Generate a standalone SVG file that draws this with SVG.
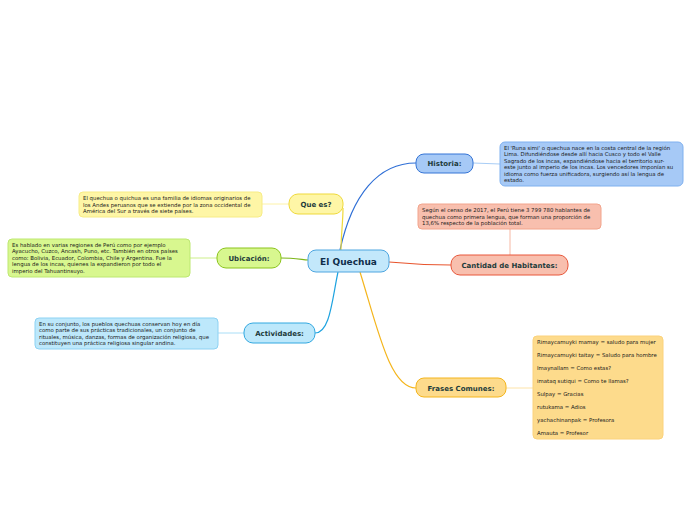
<svg xmlns="http://www.w3.org/2000/svg" width="696" height="520" viewBox="0 0 696 520">
<style>
.t{font-family:"DejaVu Sans",Verdana,sans-serif;font-size:5.4px;fill:#1a1a1a}
.h{font-family:"DejaVu Sans",Verdana,sans-serif;font-size:7px;font-weight:bold;fill:#1d3b3b;text-anchor:middle}
.c{fill:none;stroke-width:1.2}
.s{fill:none;stroke-width:1}
</style>
<rect width="696" height="520" fill="#fff"/>
<g id="connectors">
<path class="c" stroke="#2f6fd6" d="M340,250 C352,195 378,163 416,163"/>
<path class="c" stroke="#e8552e" d="M389,262 C410,264 430,265 451,265"/>
<path class="c" stroke="#f4b51c" d="M360,272 C378,330 390,388 416,388"/>
<path class="c" stroke="#efd93a" d="M341,250 C341,235 343,222 343,208"/>
<path class="c" stroke="#7cb518" d="M281,258 C292,258 298,259 308,260"/>
<path class="c" stroke="#1ea3e0" d="M338,272 C332,300 330,333 315,333"/>
<path class="s" stroke="#a8cdf6" d="M473,163 L500,164"/>
<path class="s" stroke="#f6b8a4" d="M510,229 L510,255"/>
<path class="s" stroke="#fde3a8" d="M506,388 L533,388"/>
<path class="s" stroke="#fdf2a8" d="M262,204 L289,204"/>
<path class="s" stroke="#cdef8a" d="M190,258 L217,258"/>
<path class="s" stroke="#a9def7" d="M218,333 L244,333"/>
</g>
<g id="central">
<rect x="308" y="250" width="81" height="22" rx="8" fill="#c3e8fb" stroke="#4ea6e0"/>
<text x="348.5" y="264.5" class="h" style="font-size:9px;fill:#0f2e4a">El Quechua</text>
</g>
<g id="historia">
<rect x="416" y="154" width="57" height="19" rx="8" fill="#a6c9f6" stroke="#3574d6"/>
<text x="444.5" y="166" class="h">Historia:</text>
</g>
<g id="historia-text">
<rect x="500" y="142" width="183" height="44" rx="5" fill="#a6c9f6" stroke="#7fb0ef"/>
<text class="t" x="504"><tspan y="149.5">El 'Runa simi' o quechua nace en la costa central de la región</tspan><tspan x="504" y="156">Lima. Difundiéndose desde allí hacia Cusco y todo el Valle</tspan><tspan x="504" y="162.5">Sagrado de los incas, expandiéndose hacia el territorio sur-</tspan><tspan x="504" y="169">este junto al imperio de los incas. Los vencedores imponían su</tspan><tspan x="504" y="175.5">idioma como fuerza unificadora, surgiendo así la lengua de</tspan><tspan x="504" y="182">estado.</tspan></text>
</g>
<g id="cantidad">
<rect x="451" y="255" width="117" height="20" rx="9" fill="#f8bfae" stroke="#e8573b"/>
<text x="509.5" y="267.5" class="h">Cantidad de Habitantes:</text>
</g>
<g id="cantidad-text">
<rect x="418" y="204" width="183" height="25" rx="4" fill="#f8bfae" stroke="#f2a48c"/>
<text class="t" x="422"><tspan y="212">Según el censo de 2017, el Perú tiene 3 799 780 hablantes de</tspan><tspan x="422" y="218.5">quechua como primera lengua, que forman una proporción de</tspan><tspan x="422" y="225">13,6% respecto de la población total.</tspan></text>
</g>
<g id="frases">
<rect x="416" y="378" width="90" height="19" rx="8" fill="#fddb8c" stroke="#f4b51c"/>
<text x="461" y="390.5" class="h">Frases Comunes:</text>
</g>
<g id="frases-text">
<rect x="533" y="336" width="130" height="103" rx="4" fill="#fddb8c" stroke="#fbd27c"/>
<text class="t" x="537"><tspan y="344">Rimaycamuyki mamay = saludo para mujer</tspan><tspan x="537" y="357">Rimaycamuyki taitay = Saludo para hombre</tspan><tspan x="537" y="370">Imaynallam = Como estas?</tspan><tspan x="537" y="383">imataq sutiqui = Como te llamas?</tspan><tspan x="537" y="396">Sulpay = Gracias</tspan><tspan x="537" y="409">rutukama = Adios</tspan><tspan x="537" y="422">yachachinanpak = Profesora</tspan><tspan x="537" y="435">Amauta = Profesor</tspan></text>
</g>
<g id="quees">
<rect x="289" y="194" width="54" height="20" rx="9" fill="#fef6a6" stroke="#efd93a"/>
<text x="316" y="206.5" class="h">Que es?</text>
</g>
<g id="quees-text">
<rect x="79" y="192" width="183" height="25" rx="4" fill="#fef6a6" stroke="#f7ec86"/>
<text class="t" x="83"><tspan y="200">El quechua o quichua es una familia de idiomas originarios de</tspan><tspan x="83" y="206.5">los Andes peruanos que se extiende por la zona occidental de</tspan><tspan x="83" y="213">América del Sur a través de siete países.</tspan></text>
</g>
<g id="ubicacion">
<rect x="217" y="248" width="64" height="20" rx="9" fill="#d8f78f" stroke="#8bc41d"/>
<text x="249" y="260.5" class="h">Ubicación:</text>
</g>
<g id="ubicacion-text">
<rect x="8" y="239" width="182" height="38" rx="4" fill="#d8f78f" stroke="#bde870"/>
<text class="t" x="12"><tspan y="246.5">Es hablado en varias regiones de Perú como por ejemplo</tspan><tspan x="12" y="253">Ayacucho, Cuzco, Ancash, Puno, etc. También en otros países</tspan><tspan x="12" y="259.5">como: Bolivia, Ecuador, Colombia, Chile y Argentina. Fue la</tspan><tspan x="12" y="266">lengua de los incas, quienes la expandieron por todo el</tspan><tspan x="12" y="272.5">imperio del Tahuantinsuyo.</tspan></text>
</g>
<g id="actividades">
<rect x="244" y="323" width="71" height="20" rx="9" fill="#bde8fb" stroke="#32a8e0"/>
<text x="279.5" y="335.5" class="h">Actividades:</text>
</g>
<g id="actividades-text">
<rect x="35" y="318" width="183" height="31" rx="4" fill="#bde8fb" stroke="#8dd2f3"/>
<text class="t" x="39"><tspan y="325.5">En su conjunto, los pueblos quechuas conservan hoy en día</tspan><tspan x="39" y="332">como parte de sus prácticas tradicionales, un conjunto de</tspan><tspan x="39" y="338.5">rituales, música, danzas, formas de organización religiosa, que</tspan><tspan x="39" y="345">constituyen una práctica religiosa singular andina.</tspan></text>
</g>
</svg>
